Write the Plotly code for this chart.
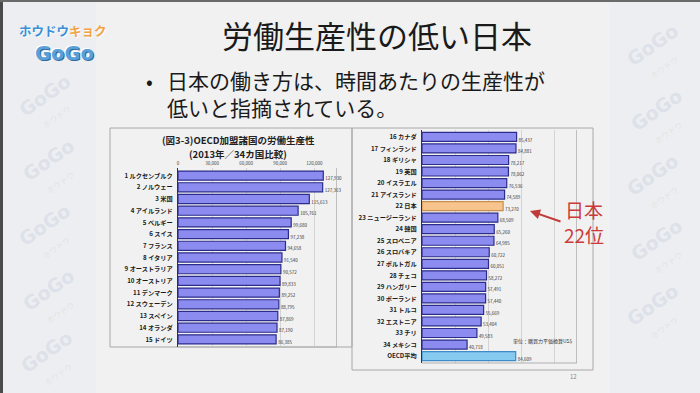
import plotly.graph_objects as go

W, H = 700, 393
def px(x): return x / W
def py(y): return 1 - y / H

# ---------------- data ----------------
left_labels = ["1 ルクセンブルク", "2 ノルウェー", "3 米国", "4 アイルランド", "5 ベルギー",
               "6 スイス", "7 フランス", "8 イタリア", "9 オーストラリア", "10 オーストリア",
               "11 デンマーク", "12 スウェーデン", "13 スペイン", "14 オランダ", "15 ドイツ"]
left_values = [127930, 127363, 115613, 105761, 99680, 97238, 94658, 91540, 90572, 89833,
               89252, 88795, 87869, 87190, 86385]

right_labels = ["16 カナダ", "17 フィンランド", "18 ギリシャ", "19 英国", "20 イスラエル",
                "21 アイスランド", "22 日本", "23 ニュージーランド", "24 韓国", "25 スロベニア",
                "26 スロバキア", "27 ポルトガル", "28 チェコ", "29 ハンガリー", "30 ポーランド",
                "31 トルコ", "32 エストニア", "33 チリ", "34 メキシコ", "OECD平均"]
right_values = [85437, 84881, 78217, 78062, 76536, 74589, 73270, 68509, 65260, 64985,
                60722, 60051, 58272, 57491, 57440, 55669, 53404, 49583, 40718, 84609]

x_ticks = [0, 30000, 60000, 90000, 120000]
x_ticktext = ["0", "30,000", "60,000", "90,000", "120,000"]

# ---------------- styles ----------------
JP = "Noto Sans CJK JP"
BAR_FILL, BAR_LINE = "#8c8cf0", "#2c2c8c"
JPN_FILL, JPN_LINE = "#f6c48c", "#c98f4f"
AVG_FILL, AVG_LINE = "#86caf0", "#3d8cc8"
SLIDE_BG = "#f1f1f1"

def fills(labels):
    out = []
    for l in labels:
        if "日本" in l: out.append(JPN_FILL)
        elif "OECD" in l: out.append(AVG_FILL)
        else: out.append(BAR_FILL)
    return out

def lines(labels):
    out = []
    for l in labels:
        if "日本" in l: out.append(JPN_LINE)
        elif "OECD" in l: out.append(AVG_LINE)
        else: out.append(BAR_LINE)
    return out

fig = go.Figure()

li = list(range(len(left_labels)))
ri = list(range(len(right_labels)))

fig.add_trace(go.Bar(x=left_values, y=li, orientation="h", width=0.78,
                     marker=dict(color=fills(left_labels), line=dict(color=lines(left_labels), width=1.2)),
                     xaxis="x", yaxis="y", hoverinfo="skip"))
fig.add_trace(go.Scatter(x=[v + 1800 for v in left_values], y=[i + 0.3 for i in li], mode="text",
                         text=[f"{v:,}" for v in left_values], textposition="middle right",
                         textfont=dict(size=4.5, color="#333", family=JP), cliponaxis=False,
                         xaxis="x", yaxis="y", hoverinfo="skip"))

fig.add_trace(go.Bar(x=right_values, y=ri, orientation="h", width=0.78,
                     marker=dict(color=fills(right_labels), line=dict(color=lines(right_labels), width=1.2)),
                     xaxis="x2", yaxis="y2", hoverinfo="skip"))
fig.add_trace(go.Scatter(x=[v + 1800 for v in right_values], y=[i + 0.3 for i in ri], mode="text",
                         text=[f"{v:,}" for v in right_values], textposition="middle right",
                         textfont=dict(size=4.5, color="#333", family=JP), cliponaxis=False,
                         xaxis="x2", yaxis="y2", hoverinfo="skip"))

fig.update_layout(
    width=W, height=H, margin=dict(l=0, r=0, t=0, b=0, autoexpand=False),
    paper_bgcolor=SLIDE_BG, plot_bgcolor="rgba(0,0,0,0)",
    showlegend=False, bargap=0.2,
    xaxis=dict(domain=[px(178), px(337)], range=[0, 140000], side="top", anchor="y", automargin=False,
               tickvals=x_ticks, ticktext=x_ticktext, tickfont=dict(size=4.5, color="#444", family=JP),
               showgrid=True, gridcolor="#d4d4d4", gridwidth=1, zeroline=False, ticks="", ticklabelstandoff=1),
    yaxis=dict(domain=[py(347), py(168)], range=[14.65, -0.65], anchor="x", automargin=False,
               tickvals=li, ticktext=left_labels, tickfont=dict(size=6.2, color="#1a1a1a", family=JP, weight="bold"),
               showgrid=False, zeroline=False, showline=True, linecolor="#333", linewidth=1.2,
               ticks="", ticklabelstandoff=3),
    xaxis2=dict(domain=[px(422), px(577)], range=[0, 140000], side="top", anchor="y2", automargin=False,
                showticklabels=False, showgrid=True, gridcolor="#d4d4d4", gridwidth=1,
                tickvals=x_ticks, zeroline=False, ticks=""),
    yaxis2=dict(domain=[py(363), py(130)], range=[19.6, -0.6], anchor="x2", automargin=False,
                tickvals=ri, ticktext=right_labels, tickfont=dict(size=6.2, color="#1a1a1a", family=JP, weight="bold"),
                showgrid=False, zeroline=False, showline=True, linecolor="#333", linewidth=1.2,
                ticks="", ticklabelstandoff=3),
)

shapes = []
# side strips with watermark
shapes.append(dict(type="rect", xref="paper", yref="paper", x0=0, x1=px(96), y0=0, y1=1,
                   fillcolor="#eceef1", line=dict(width=0), layer="below"))
shapes.append(dict(type="rect", xref="paper", yref="paper", x0=px(610), x1=1, y0=0, y1=1,
                   fillcolor="#eceef1", line=dict(width=0), layer="below"))
# dark slide frame edges
shapes.append(dict(type="rect", xref="paper", yref="paper", x0=0, x1=px(3), y0=0, y1=1,
                   fillcolor="#4a4a4a", line=dict(width=0)))
shapes.append(dict(type="rect", xref="paper", yref="paper", x0=0, x1=1, y0=py(2), y1=1,
                   fillcolor="#6a6a6a", line=dict(width=0)))
# chart panels
shapes.append(dict(type="rect", xref="paper", yref="paper", x0=px(110), x1=px(352), y0=py(347), y1=py(128),
                   fillcolor="rgba(0,0,0,0)", line=dict(color="#a8a8a8", width=1), layer="below"))
shapes.append(dict(type="rect", xref="paper", yref="paper", x0=px(352), x1=px(593), y0=py(370), y1=py(128),
                   fillcolor="rgba(0,0,0,0)", line=dict(color="#a8a8a8", width=1), layer="below"))
# right frame lines of plot areas
for xr, yr in (("x", "y"), ("x2", "y2")):
    shapes.append(dict(type="line", xref=xr, yref=yr + " domain", x0=140000, x1=140000, y0=0, y1=1,
                       line=dict(color="#8a8a8a", width=1)))
    shapes.append(dict(type="line", xref=xr, yref=yr + " domain", x0=0, x1=140000, y0=0, y1=0,
                       line=dict(color="#b0b0b0", width=1)))
fig.update_layout(shapes=shapes)

ann = []
def A(x, y, text, **kw):
    d = dict(x=px(x), y=py(y), xref="paper", yref="paper", text=text, showarrow=False,
             xanchor="center", yanchor="middle")
    d.update(kw)
    ann.append(d)

# watermark (kept inside the side strips)
wm_pos = [(45, 95), (48, 160), (44, 225), (48, 290), (46, 352),
          (652, 45), (656, 110), (652, 175), (656, 240), (652, 305)]
for (x, y) in wm_pos:
    A(x, y, "GoGo", textangle=-35,
      font=dict(size=19, color="rgba(140,160,190,0.18)", family="DejaVu Sans", weight="bold"))
    A(x + 12, y + 22, "ホウドウ", textangle=-35,
      font=dict(size=8, color="rgba(200,170,140,0.20)", family=JP))

# logo
A(63, 30.5, "<span style='color:#3b8fd6'>ホウドウ</span><span style='color:#f2a245'>キョク</span>",
  font=dict(size=12.5, family=JP, weight="bold", shadow="1px 1px 1px #ffffff"))
A(64, 53, "GoGo", font=dict(size=19.5, family="DejaVu Sans", weight="bold", color="#5b9fd8",
                            shadow="1px 1px 0px #2d6a9f, -1px -1px 0px #ffffff"))

# title and bullet
A(377, 34, "労働生産性の低い日本", font=dict(size=31, family=JP, color="#1a1a1a"))
A(149, 80, "•", font=dict(size=20, family=JP, color="#1a1a1a"))
A(165, 93, "日本の働き方は、時間あたりの生産性が<br>低いと指摘されている。", xanchor="left", align="left",
  font=dict(size=21, family=JP, color="#1a1a1a"))

# left chart titles
A(238, 140, "(図3-3)OECD加盟諸国の労働生産性", font=dict(size=9.5, family=JP, color="#222", weight="bold"))
A(238, 154, "(2013年／34カ国比較)", font=dict(size=9.5, family=JP, color="#222", weight="bold"))

# unit note
A(543, 341, "単位：購買力平価換算US$", font=dict(size=5, family=JP, color="#333"))
# page number
A(573, 376, "12", font=dict(size=6, family=JP, color="#888"))

# Japan callout
ann.append(dict(x=px(530), y=py(211), xref="paper", yref="paper", text="", showarrow=True,
                ax=32, ay=11, arrowhead=2, arrowsize=1, arrowwidth=2, arrowcolor="#c03a3a"))
A(584, 222, "日本<br>22位", align="center", font=dict(size=19, family=JP, color="#cc3a3a"))

fig.update_layout(annotations=ann)
fig.write_html("out.html",
               config={"displayModeBar": False},
               post_script="document.body.style.margin='0';document.body.style.overflow='hidden';")
